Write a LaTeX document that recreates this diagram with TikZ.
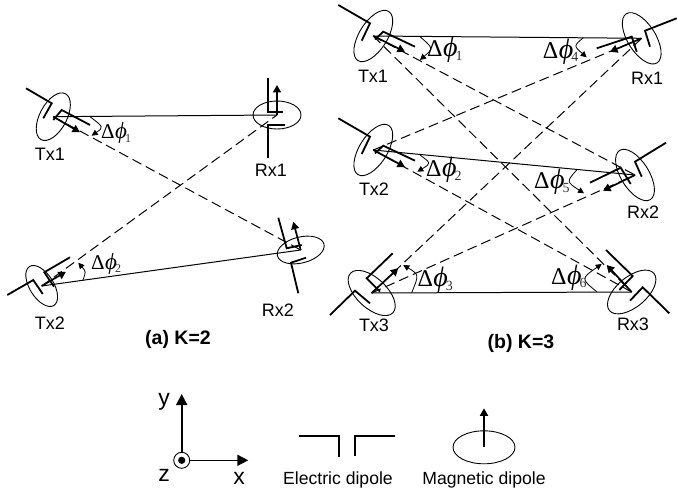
\documentclass[tikz,border=0pt]{standalone}
\usepackage[no-math]{fontspec}
\setmainfont{Liberation Sans}
\newfontfamily\serifgr{Liberation Serif}
\usetikzlibrary{arrows.meta,shapes.geometric}
\definecolor{subgray}{gray}{0.2}
\tikzset{
  ant/.style={draw,ellipse,inner sep=0pt,line width=0.9pt},
  armline/.style={line width=1.8pt,line join=miter},
  momentarrow/.style={line width=1.7pt,-{Triangle[length=7.5pt,width=8pt]}},
  direct/.style={line width=1pt},
  cross/.style={line width=1pt,dash pattern=on 10pt off 5pt},
  sweep/.style={line width=0.8pt,-{Triangle[length=6pt,width=6pt]}},
  lbl/.style={font=\fontsize{18}{20}\selectfont,inner sep=0pt},
  caplbl/.style={font=\fontsize{19.5}{22}\selectfont\bfseries,inner sep=0pt},
  leglbl/.style={font=\fontsize{17.6}{20}\selectfont,inner sep=0pt},
  axlbl/.style={font=\fontsize{23}{26}\selectfont,inner sep=0pt},
  anglelbl/.style={anchor=base west,inner sep=0pt}
}
\newcommand{\dphi}[1]{{\serifgr\fontsize{24}{26}\selectfont Δ\kern0.5pt{\fontsize{28}{26}\selectfont\itshape ϕ}\kern-2pt\raisebox{-3.5pt}{\fontsize{14}{14}\selectfont\color{subgray}#1}}}
\newcommand{\dphismall}[1]{{\serifgr\fontsize{21}{24}\selectfont Δ\kern0.5pt{\fontsize{23}{24}\selectfont\itshape ϕ}\kern-2pt\raisebox{-3.5pt}{\fontsize{12}{12}\selectfont\color{subgray}#1}}}
\begin{document}
\begin{tikzpicture}[x=1pt,y=-1pt]
\useasboundingbox (0,0) rectangle (677,494);
% ---- panel (a) ----
\node[ant,rotate=62,minimum width=52pt,minimum height=27pt] (atx1) at (53.3,116.7) {};
\node[ant,minimum width=48pt,minimum height=28pt] (arx1) at (277,115) {};
\node[ant,rotate=-58,minimum width=46pt,minimum height=24pt] (atx2) at (41.7,286) {};
\node[ant,rotate=14,minimum width=48pt,minimum height=26pt] (arx2) at (300.7,250) {};
\draw[direct] (atx1.center) -- (arx1.center);
\draw[direct] (atx2.center) -- (arx2.center);
\draw[cross] (atx1.center) -- (arx2.center);
\draw[cross] (atx2.center) -- (arx1.center);
\draw[armline] (26,88.3) -- (51.7,103.3) -- (43.3,118.3);
\draw[armline] (90,125) -- (61.7,110) -- (53.3,120);
\draw[momentarrow] (atx1.center) -- (80,132.3);
\draw[armline] (268,78) -- (268,112) -- (283,112);
\draw[armline] (268,158) -- (268,125) -- (285,125);
\draw[momentarrow] (arx1.center) -- (277,85);
\draw[armline] (7.3,295) -- (33.3,280) -- (42.7,294);
\draw[armline] (70,257.3) -- (44.3,272.3) -- (54,286.7);
\draw[momentarrow] (atx2.center) -- (66,271.7);
\draw[armline] (278.3,217.7) -- (286.7,248.3) -- (301.7,245);
\draw[armline] (298.3,293.3) -- (291,262.7) -- (306,257.7);
\draw[momentarrow] (arx2.center) -- (293.3,221.7);
\draw[sweep] (90,116.7) .. controls (103.8,127.2) .. (91.7,135.7);
\draw[sweep] (82.7,280.7) .. controls (86.1,271.7) .. (78.3,262.7);
\node[anglelbl] (aphi1) at (101,139) {\dphismall{1}};
\node[anglelbl] (aphi2) at (91,269.3) {\dphismall{2}};
\node[lbl] (latx1) at (50,154) {Tx1};
\node[lbl] (larx1) at (271,170) {Rx1};
\node[lbl] (latx2) at (50,323) {Tx2};
\node[lbl] (larx2) at (278,310) {Rx2};
\node[caplbl] (capa) at (178,339) {(a) K=2};
% ---- panel (b) ----
\node[ant,rotate=58,minimum width=58pt,minimum height=28pt] (btx1) at (373.3,36) {};
\node[ant,rotate=-58,minimum width=58pt,minimum height=28pt] (brx1) at (641.7,38.3) {};
\node[ant,rotate=58,minimum width=58pt,minimum height=28pt] (btx2) at (373.3,150) {};
\node[ant,rotate=-58,minimum width=58pt,minimum height=28pt] (brx2) at (635,175) {};
\node[ant,rotate=-43,minimum width=58pt,minimum height=30pt] (btx3) at (371.7,293) {};
\node[ant,rotate=40,minimum width=58pt,minimum height=30pt] (brx3) at (631.7,292) {};
\draw[direct] (btx1.center) -- (brx1.center);
\draw[direct] (btx2.center) -- (brx2.center);
\draw[direct] (btx3.center) -- (brx3.center);
\draw[cross] (btx1.center) -- (brx2.center);
\draw[cross] (btx1.center) -- (brx3.center);
\draw[cross] (btx2.center) -- (brx1.center);
\draw[cross] (btx2.center) -- (brx3.center);
\draw[cross] (btx3.center) -- (brx1.center);
\draw[cross] (btx3.center) -- (brx2.center);
\draw[armline] (338.3,5) -- (370,23.3) -- (361.7,40.7);
\draw[armline] (415,46.7) -- (383.3,31.7) -- (375,39.3);
\draw[momentarrow] (btx1.center) -- (405,51.7);
\draw[armline] (676.7,18.3) -- (645,30.7) -- (650,46.7);
\draw[armline] (596.7,48.3) -- (631.7,36.7) -- (636.7,51.7);
\draw[momentarrow] (brx1.center) -- (610,51.7);
\draw[armline] (338.3,118.3) -- (370,136.7) -- (361.7,154);
\draw[armline] (415,160.7) -- (383.3,145.7) -- (375,153.3);
\draw[momentarrow] (btx2.center) -- (405,167);
\draw[armline] (666,142.7) -- (635,161.7) -- (641.7,176.7);
\draw[armline] (590,182.7) -- (620.7,167.7) -- (630.7,184);
\draw[momentarrow] (brx2.center) -- (603,190.7);
\draw[armline] (330,315) -- (355,290.7) -- (370,303.3);
\draw[armline] (392.7,253.3) -- (366.7,278.3) -- (380,291.7);
\draw[momentarrow] (btx3.center) -- (398.3,268.3);
\draw[armline] (669.3,313.3) -- (642.7,287.3) -- (630,300.7);
\draw[armline] (606,250) -- (632.7,276) -- (619.3,290);
\draw[momentarrow] (brx3.center) -- (606.7,265);
\draw[sweep] (420,36.7) .. controls (433.4,48.3) .. (420,60);
\draw[sweep] (583.3,37.7) .. controls (573.6,45.9) .. (586.7,57.3);
\draw[sweep] (420,155) .. controls (431.3,163.3) .. (417.3,171.7);
\draw[sweep] (576.7,170) .. controls (566.3,181.7) .. (584,193.3);
\draw[sweep] (411.7,292.7) .. controls (419.1,274.6) .. (403.3,265);
\draw[sweep] (596.7,291.7) .. controls (580.8,278.7) .. (601.7,264);
\node[anglelbl] (bphi1) at (427,57) {\dphi{1}};
\node[anglelbl] (bphi4) at (542.7,58.3) {\dphi{4}};
\node[anglelbl] (bphi2) at (426,176.7) {\dphi{2}};
\node[anglelbl] (bphi5) at (534,189) {\dphi{5}};
\node[anglelbl] (bphi3) at (417.3,286.7) {\dphi{3}};
\node[anglelbl] (bphi6) at (551,284) {\dphi{6}};
\node[lbl] (lbtx1) at (373,76) {Tx1};
\node[lbl] (lbrx1) at (647,78) {Rx1};
\node[lbl] (lbtx2) at (374,189) {Tx2};
\node[lbl] (lbrx2) at (643,212) {Rx2};
\node[lbl] (lbtx3) at (374,325) {Tx3};
\node[lbl] (lbrx3) at (633,324) {Rx3};
\node[caplbl] (capb) at (521,343) {(b) K=3};
% ---- legend ----
\node[draw,circle,minimum size=16pt,inner sep=0pt,line width=0.9pt] (orig) at (181.7,460.3) {};
\fill (orig.center) circle (3.6pt);
\coordinate (ytip) at (181.7,394);
\coordinate (xtip) at (248.3,460.3);
\draw[line width=1.6pt,-{Triangle[length=11pt,width=11pt]}] (orig) -- (ytip);
\draw[line width=1.6pt,-{Triangle[length=11pt,width=11pt]}] (orig) -- (xtip);
\node[axlbl] (ly) at (164,402) {y};
\node[axlbl] (lz) at (164,475) {z};
\node[axlbl] (lx) at (239,478) {x};
\draw[armline] (299,435.7) -- (339.3,435.7) -- (339.3,457.3);
\draw[armline] (395,435.7) -- (355,435.7) -- (355,456);
\node[leglbl] (ledip) at (338,480) {Electric dipole};
\node[ant,minimum width=62pt,minimum height=33pt] (mdip) at (484,447.3) {};
\coordinate (mtip) at (484,408.3);
\draw[momentarrow] (mdip.center) -- (mtip);
\node[leglbl] (lmdip) at (484,480) {Magnetic dipole};
\end{tikzpicture}
\end{document}
